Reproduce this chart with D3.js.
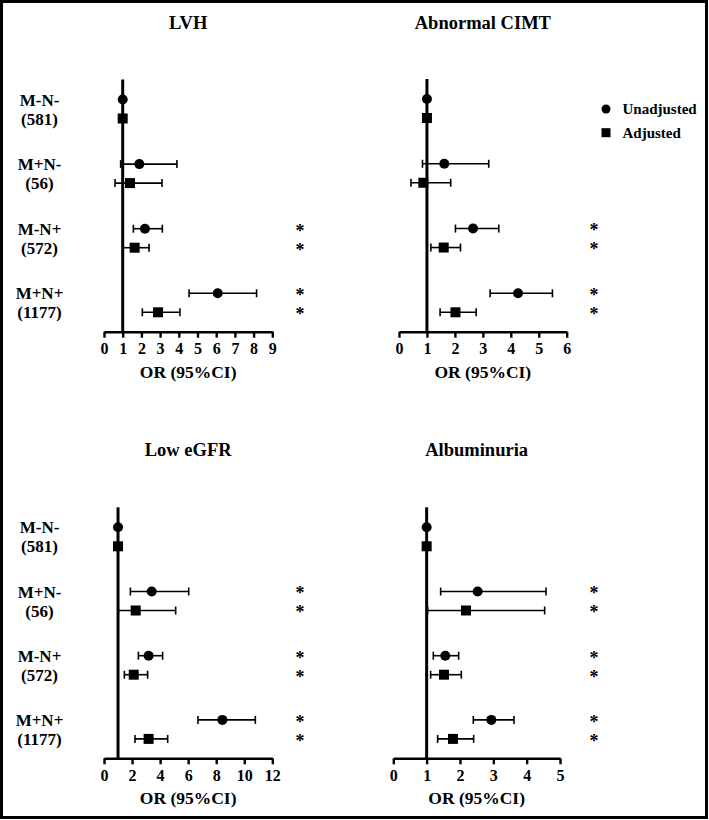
<!DOCTYPE html>
<html>
<head>
<meta charset="utf-8">
<script src="https://cdn.jsdelivr.net/npm/d3@7"></script>
<style>
  html, body { margin: 0; padding: 0; background: #fff; }
  svg { display: block; }
  text { font-family: "Liberation Serif", "Times New Roman", Times, serif; font-weight: bold; fill: #000; }
</style>
</head>
<body>
<svg id="chart" width="709" height="820" font-family="Liberation Serif, Times New Roman, serif"></svg>
<script>
// ---------- DATA ----------
const groups = ["M-N-", "M+N-", "M-N+", "M+N+"];
const groupN = ["(581)", "(56)", "(572)", "(1177)"];
const panelTitles = ["LVH", "Abnormal CIMT", "Low eGFR", "Albuminuria"];
const seriesNames = ["Unadjusted", "Adjusted"];
const axisTitle = "OR (95%CI)";

// [OR, lower CI, upper CI] per group
const lvhUnadjusted   = [[1, 1, 1], [1.89, 0.89, 3.90], [2.19, 1.57, 3.12], [6.08, 4.55, 8.16]];
const lvhAdjusted     = [[1, 1, 1], [1.39, 0.59, 3.10], [1.64, 1.03, 2.41], [2.89, 2.05, 4.06]];
const cimtUnadjusted  = [[1, 1, 1], [1.62, 0.84, 3.21], [2.65, 2.02, 3.57], [4.26, 3.26, 5.49]];
const cimtAdjusted    = [[1, 1, 1], [0.87, 0.43, 1.85], [1.60, 1.14, 2.20], [2.02, 1.47, 2.76]];
const egfrUnadjusted  = [[1, 1, 1], [3.40, 1.88, 6.04], [3.18, 2.45, 4.18], [8.44, 6.70, 10.79]];
const egfrAdjusted    = [[1, 1, 1], [2.26, 1.02, 5.11], [2.12, 1.45, 3.11], [3.18, 2.21, 4.54]];
const albUnadjusted   = [[1, 1, 1], [2.53, 1.42, 4.58], [1.56, 1.20, 1.96], [2.94, 2.40, 3.62]];
const albAdjusted     = [[1, 1, 1], [2.18, 1.03, 4.54], [1.52, 1.12, 2.04], [1.79, 1.33, 2.41]];

// significance flags per group (same for both series)
const lvhSig  = [false, false, true, true];
const cimtSig = [false, false, true, true];
const egfrSig = [false, true, true, true];
const albSig  = [false, true, true, true];

const lvhTicks  = [0, 1, 2, 3, 4, 5, 6, 7, 8, 9];
const cimtTicks = [0, 1, 2, 3, 4, 5, 6];
const egfrTicks = [0, 2, 4, 6, 8, 10, 12];
const albTicks  = [0, 1, 2, 3, 4, 5];

// ---------- LAYOUT ----------
const panels = [
  { title: panelTitles[0], unadj: lvhUnadjusted,  adj: lvhAdjusted,  sig: lvhSig,  ticks: lvhTicks,
    x0: 104, x1: 272.3, refTop: 79.5, axisY: 331.7, titleY: 28.5, starX: 300, labels: true, legend: false },
  { title: panelTitles[1], unadj: cimtUnadjusted, adj: cimtAdjusted, sig: cimtSig, ticks: cimtTicks,
    x0: 399, x1: 566.7, refTop: 79, axisY: 331.7, titleY: 29, starX: 594, labels: false, legend: true },
  { title: panelTitles[2], unadj: egfrUnadjusted, adj: egfrAdjusted, sig: egfrSig, ticks: egfrTicks,
    x0: 104, x1: 272.3, refTop: 507.3, axisY: 758.3, titleY: 455.5, starX: 300, labels: true, legend: false },
  { title: panelTitles[3], unadj: albUnadjusted,  adj: albAdjusted,  sig: albSig,  ticks: albTicks,
    x0: 393.3, x1: 560, refTop: 507.3, axisY: 758.3, titleY: 455.5, starX: 594, labels: false, legend: false }
];

const svg = d3.select("#chart");
svg.append("rect").attr("width", 709).attr("height", 820).attr("fill", "#fff");
svg.append("rect").attr("x", 1.5).attr("y", 1.5).attr("width", 705).attr("height", 816)
  .attr("fill", "none").attr("stroke", "#000").attr("stroke-width", 3);

const subOffset = 19;   // adjusted row below unadjusted
const capH = 4;

panels.forEach(p => {
  const g = svg.append("g");
  const domainMax = p.ticks[p.ticks.length - 1];
  const x = d3.scaleLinear().domain([0, domainMax]).range([p.x0, p.x1]);
  const y = d3.scalePoint().domain(groups).range([p.refTop + 20, p.axisY - 19.4 - subOffset]);

  // title
  g.append("text").attr("x", (p.x0 + p.x1) / 2).attr("y", p.titleY)
    .attr("text-anchor", "middle").attr("font-size", 18.5).text(p.title);

  // axis
  const ax = g.append("g").attr("transform", `translate(0,${p.axisY})`)
    .call(d3.axisBottom(x).tickValues(p.ticks).tickFormat(d3.format("d")).tickSize(6).tickSizeOuter(0).tickPadding(5));
  ax.select(".domain").attr("stroke", "#000").attr("stroke-width", 2.6);
  ax.selectAll(".tick line").attr("stroke", "#000").attr("stroke-width", 2.4);
  ax.selectAll(".tick text").attr("font-size", 16).attr("font-family", "Liberation Serif, Times New Roman, serif")
    .attr("font-weight", "bold").attr("fill", "#000");

  // axis title
  g.append("text").attr("x", (p.x0 + p.x1) / 2).attr("y", p.axisY + 46)
    .attr("text-anchor", "middle").attr("font-size", 17.5).text(axisTitle);

  // reference line at OR = 1
  g.append("line").attr("x1", x(1)).attr("x2", x(1)).attr("y1", p.refTop).attr("y2", p.axisY)
    .attr("stroke", "#000").attr("stroke-width", 3);

  // rows
  const series = [
    { data: p.unadj, dy: 0, shape: "circle" },
    { data: p.adj, dy: subOffset, shape: "square" }
  ];
  series.forEach(s => {
    s.data.forEach((d, i) => {
      const cy = y(groups[i]) + s.dy;
      const [or, lo, hi] = d;
      if (hi > lo) {
        g.append("line").attr("x1", x(lo)).attr("x2", x(hi)).attr("y1", cy).attr("y2", cy)
          .attr("stroke", "#000").attr("stroke-width", 1.6);
        [lo, hi].forEach(v => {
          g.append("line").attr("x1", x(v)).attr("x2", x(v)).attr("y1", cy - capH).attr("y2", cy + capH)
            .attr("stroke", "#000").attr("stroke-width", 1.6);
        });
      }
      if (s.shape === "circle") {
        g.append("circle").attr("cx", x(or)).attr("cy", cy).attr("r", 5).attr("fill", "#000");
      } else {
        g.append("rect").attr("x", x(or) - 5).attr("y", cy - 5).attr("width", 10).attr("height", 10).attr("fill", "#000");
      }
      if (p.sig[i]) {
        g.append("text").attr("x", p.starX).attr("y", cy + 7.8).attr("text-anchor", "middle")
          .attr("font-size", 18).text("*");
      }
    });
  });

  // row labels
  if (p.labels) {
    groups.forEach((grp, i) => {
      const cy = y(grp);
      g.append("text").attr("x", 39.5).attr("y", cy + 6).attr("text-anchor", "middle")
        .attr("font-size", 17).text(grp);
      g.append("text").attr("x", 39.5).attr("y", cy + subOffset + 6).attr("text-anchor", "middle")
        .attr("font-size", 17).text(groupN[i]);
    });
  }

  // legend
  if (p.legend) {
    const lg = g.append("g");
    lg.append("circle").attr("cx", 606).attr("cy", 109).attr("r", 4.5).attr("fill", "#000");
    lg.append("text").attr("x", 622.5).attr("y", 114).attr("font-size", 15).text(seriesNames[0]);
    lg.append("rect").attr("x", 601.5).attr("y", 128.2).attr("width", 9).attr("height", 9).attr("fill", "#000");
    lg.append("text").attr("x", 622.5).attr("y", 138).attr("font-size", 15).text(seriesNames[1]);
  }
});
</script>
</body>
</html>
